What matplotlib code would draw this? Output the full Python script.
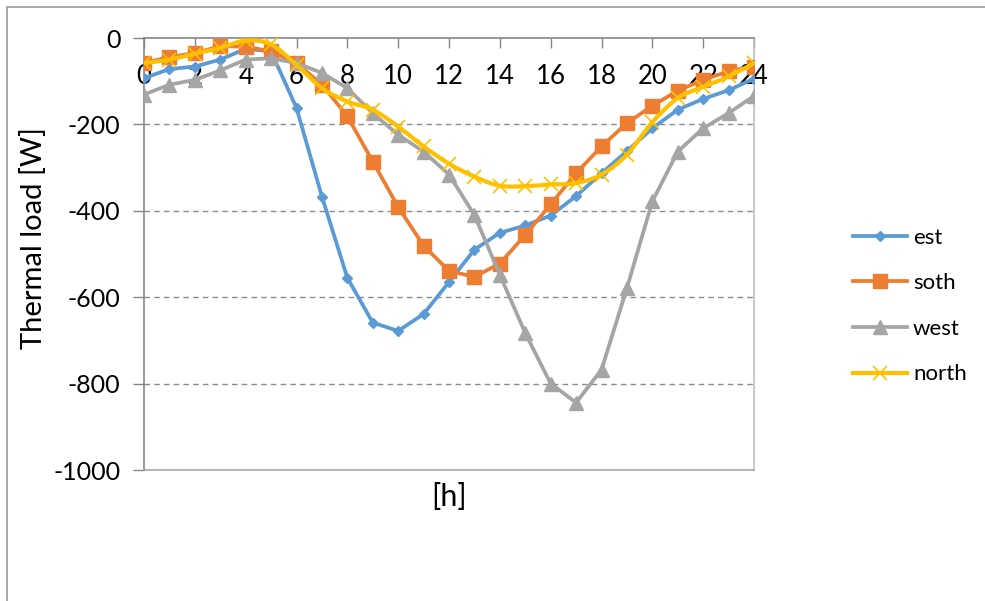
import numpy as np
import matplotlib
matplotlib.use('Agg')
import matplotlib.pyplot as plt
from matplotlib.path import Path
from matplotlib.patches import PathPatch, Rectangle
from matplotlib.lines import Line2D

plt.rcParams['font.family'] = ['Lato', 'DejaVu Sans']
plt.rcParams['axes.unicode_minus'] = False

hours = list(range(25))
est = [-93, -72, -66, -50, -25, -31, -162, -367, -555, -659, -678, -639, -565,
       -490, -451, -434, -411, -366, -313, -262, -209, -166, -141, -121, -94]
soth = [-58, -44, -35, -19, -20, -31, -58, -108, -181, -286, -391, -481, -539,
        -553, -522, -456, -385, -313, -251, -197, -157, -122, -97, -77, -66]
west = [-131, -108, -97, -75, -50, -47, -58, -81, -116, -174, -224, -263, -316,
        -410, -548, -683, -800, -844, -768, -579, -378, -263, -209, -174, -134]
north = [-58, -50, -36, -23, -6, -15, -62, -116, -147, -166, -205, -251, -291,
         -321, -342, -343, -339, -336, -316, -270, -195, -139, -113, -89, -58]
series_names = ['est', 'soth', 'west', 'north']
colors = ['#5B9BD5', '#ED7D31', '#A5A5A5', '#FFC000']

fig = plt.figure(figsize=(9.85, 6.01), dpi=100)
ax = fig.add_axes([144 / 985, 1 - 470 / 601, 610 / 985, 432 / 601])

ax.plot(hours, est, color=colors[0], lw=2.7, marker='D', ms=5.5, zorder=3)
ax.plot(hours, soth, color=colors[1], lw=2.7, marker='s', ms=9.5, zorder=3)
ax.plot(hours, west, color=colors[2], lw=2.7, marker='^', ms=10, zorder=3)

# smoothed line for north (Excel style), bezier through the data points
px = np.array(hours, dtype=float)
py = np.array(north, dtype=float)
verts = [(px[0], py[0])]
codes = [Path.MOVETO]
for i in range(len(px) - 1):
    i0 = max(i - 1, 0)
    i3 = min(i + 2, len(px) - 1)
    c1 = (px[i] + (px[i + 1] - px[i0]) / 6, py[i] + (py[i + 1] - py[i0]) / 6)
    c2 = (px[i + 1] - (px[i3] - px[i]) / 6, py[i + 1] - (py[i3] - py[i]) / 6)
    verts += [c1, c2, (px[i + 1], py[i + 1])]
    codes += [Path.CURVE4] * 3
ax.add_patch(PathPatch(Path(verts, codes), fill=False, ec=colors[3], lw=3, zorder=4))
ax.plot(hours, north, ls='none', color=colors[3], marker='x', ms=10, mew=1.2, zorder=4)

ax.set_xlim(0, 24)
ax.set_ylim(-1000, 0)
ax.set_xticks(range(0, 25, 2))
ax.set_yticks(range(-1000, 1, 200))
ax.xaxis.set_ticks_position('top')
ax.tick_params(axis='x', direction='in', length=7, width=1, color='#868686',
               pad=-36.5, labelsize=18.5)
ax.tick_params(axis='y', direction='out', length=8, width=1, color='#868686',
               pad=9, labelsize=18)
for y in range(-800, 0, 200):
    ax.axhline(y, color='#8c8c8c', lw=1, ls=(0, (4, 3)), zorder=1)

ax.spines['left'].set_color('#868686')
ax.spines['top'].set_color('#868686')
ax.spines['bottom'].set_color('#a6a6a6')
ax.spines['right'].set_color('#bfbfbf')
for s in ax.spines.values():
    s.set_linewidth(1.2)

ax.set_ylabel('Thermal load [W]', fontsize=21)
ax.yaxis.set_label_coords(-0.159, 0.536)
ax.text(0.5, -0.062, '[h]', transform=ax.transAxes, ha='center', va='center',
        fontsize=22)

handles = [Line2D([], [], color=colors[0], lw=2.7, marker='D', ms=5.5),
           Line2D([], [], color=colors[1], lw=2.7, marker='s', ms=9.5),
           Line2D([], [], color=colors[2], lw=2.7, marker='^', ms=10),
           Line2D([], [], color=colors[3], lw=3, marker='x', ms=10, mew=1.2)]
fig.legend(handles, series_names, loc='center left', bbox_to_anchor=(853 / 985, 1 - 306 / 601),
           frameon=False, fontsize=16, handlelength=2.45, handletextpad=0.25,
           labelspacing=1.15, borderpad=0, borderaxespad=0)

fig.add_artist(Rectangle((7 / 985, -0.2), 1.2, 1.2 - 7 / 601, transform=fig.transFigure,
                         fill=False, ec='#a0a0a0', lw=1.3))

plt.savefig('out.png', dpi=100)
